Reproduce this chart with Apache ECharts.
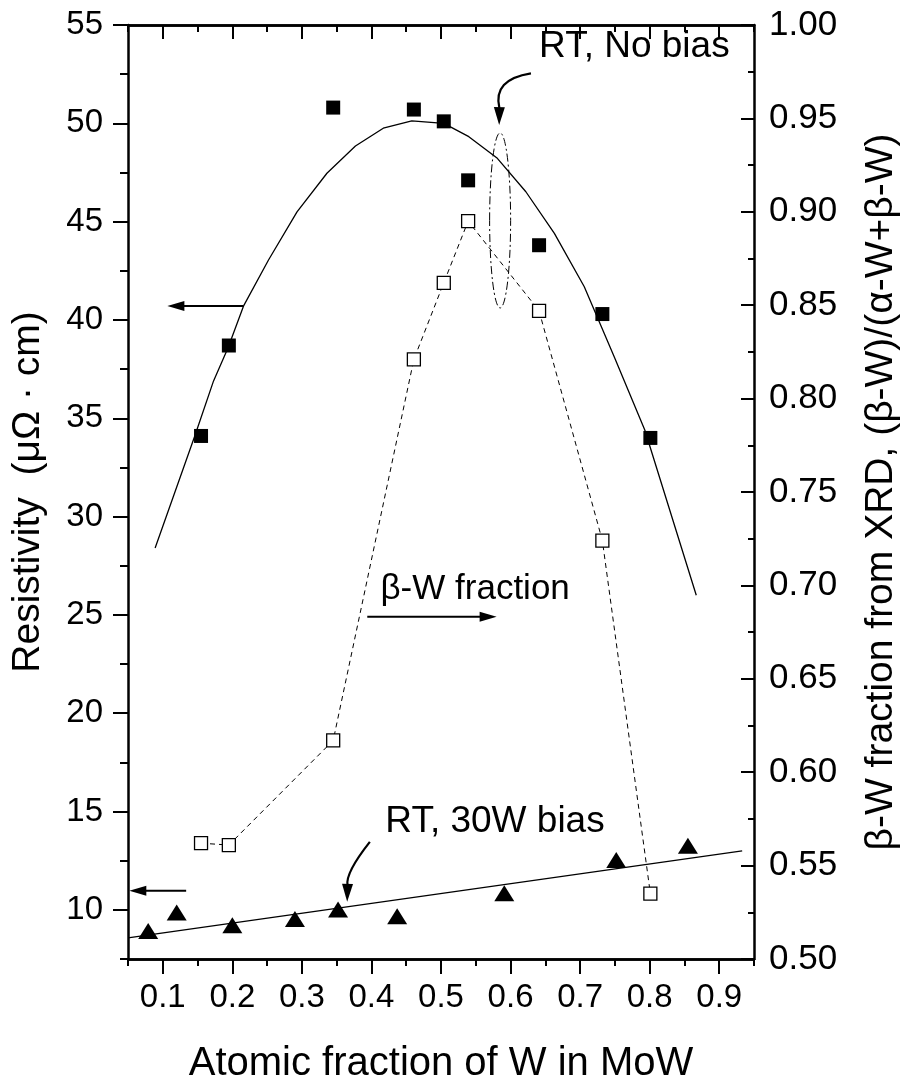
<!DOCTYPE html>
<html><head><meta charset="utf-8">
<script src="https://cdn.jsdelivr.net/npm/echarts@6/dist/echarts.min.js"></script>
<style>html,body{margin:0;padding:0;background:#fff}#c{width:902px;height:1081px}</style>
</head><body><div id="c"></div>
<script>
// ---- data ----
const compX = [0.155, 0.195, 0.345, 0.461, 0.504, 0.539, 0.641, 0.732, 0.801];
const resistNoBias = [34.1, 38.7, 50.8, 50.7, 50.1, 47.1, 43.8, 40.3, 34.0];
const betaFraction = [0.562, 0.561, 0.617, 0.821, 0.862, 0.895, 0.847, 0.724, 0.535];
const biasX = [0.079, 0.12, 0.2, 0.29, 0.352, 0.437, 0.591, 0.752, 0.855];
const resistBias = [8.92, 9.87, 9.22, 9.53, 10.02, 9.68, 10.84, 12.53, 13.26];
const fitCurveX = [0.089, 0.146, 0.173, 0.194, 0.216, 0.252, 0.293, 0.336, 0.377, 0.417, 0.458, 0.504, 0.540, 0.581, 0.622, 0.663, 0.706, 0.749, 0.793, 0.867];
const fitCurveY = [28.4, 34.1, 36.9, 38.6, 40.7, 43.05, 45.5, 47.46, 48.85, 49.75, 50.12, 50.0, 49.32, 48.22, 46.52, 44.4, 41.69, 38.13, 34.4, 26.0];
const biasFitX = [0.05, 0.933];
const biasFitY = [8.57, 13.0];
const xTickLabels = [0.1, 0.2, 0.3, 0.4, 0.5, 0.6, 0.7, 0.8, 0.9];
const xMinorTicks = [0.05, 0.15, 0.25, 0.35, 0.45, 0.55, 0.65, 0.75, 0.85, 0.95];
const leftTickLabels = [10, 15, 20, 25, 30, 35, 40, 45, 50, 55];

const FONT = "'Liberation Sans', Arial, sans-serif";
const zip = (a, b) => a.map((v, i) => [v, b[i]]);

const chart = echarts.init(document.getElementById('c'), null, {renderer: 'canvas'});
const GRID = {left: 128, right: 148, top: 25, bottom: 122, containLabel: false, outerBoundsMode: 'none'};
const lineBlack = {color: '#000', width: 2.5};

function xAx(pos, ticks, len, inside, opts) {
  return Object.assign({
    type: 'value', position: pos, min: 0.05, max: 0.95,
    axisLine: {show: true, onZero: false, lineStyle: lineBlack},
    axisTick: {show: true, inside: inside, length: len, customValues: ticks, lineStyle: {color: '#000', width: 2}},
    axisLabel: {show: false}, splitLine: {show: false}
  }, opts || {});
}

const option = {
  animation: false,
  backgroundColor: '#fff',
  grid: GRID,
  xAxis: [
    xAx('bottom', xTickLabels, 15, false, {
      axisLabel: {show: true, customValues: xTickLabels, fontFamily: FONT, fontSize: 33, color: '#000', margin: 22,
        formatter: v => (+v).toFixed(1)},
      name: 'Atomic fraction of W in MoW', nameLocation: 'middle', nameGap: 85,
      nameTextStyle: {fontFamily: FONT, fontSize: 40, color: '#000'}
    }),
    xAx('bottom', xMinorTicks, 7, false),
    xAx('top', xTickLabels, 14, true),
    xAx('top', xMinorTicks, 7, true)
  ],
  yAxis: [
    {
      type: 'value', position: 'left', min: 7.5, max: 55,
      axisLine: {show: true, onZero: false, lineStyle: lineBlack},
      axisTick: {show: true, length: 15, customValues: leftTickLabels, lineStyle: {color: '#000', width: 2}},
      axisLabel: {show: true, customValues: leftTickLabels, fontFamily: FONT, fontSize: 33, color: '#000', margin: 25},
      splitLine: {show: false},
      name: 'Resistivity  (\u03BC\u03A9 \u00B7 cm)', nameLocation: 'middle', nameGap: 80, nameRotate: 90,
      nameTextStyle: {fontFamily: FONT, fontSize: 39, color: '#000'}
    },
    {
      type: 'value', position: 'left', min: 7.5, max: 55, interval: 2.5,
      axisLine: {show: false, onZero: false},
      axisTick: {show: true, length: 8, lineStyle: {color: '#000', width: 2}},
      axisLabel: {show: false}, splitLine: {show: false}
    },
    {
      type: 'value', position: 'right', min: 0.5, max: 1.0, interval: 0.05,
      axisLine: {show: true, onZero: false, lineStyle: lineBlack},
      axisTick: {show: true, inside: true, length: 13, lineStyle: {color: '#000', width: 2}},
      minorTick: {show: true, splitNumber: 2, length: 6, lineStyle: {color: '#000', width: 2}},
      axisLabel: {show: true, fontFamily: FONT, fontSize: 35, color: '#000', margin: 15,
        formatter: v => (+v).toFixed(2)},
      splitLine: {show: false},
      name: '\u03B2-W fraction from XRD, (\u03B2-W)/(\u03B1-W+\u03B2-W)', nameLocation: 'middle', nameGap: 108, nameRotate: 90,
      nameTextStyle: {fontFamily: FONT, fontSize: 39, color: '#000'}
    }
  ],
  series: [
    {
      name: 'fit', type: 'line', xAxisIndex: 0, yAxisIndex: 0, data: zip(fitCurveX, fitCurveY),
      symbol: 'none', lineStyle: {color: '#000', width: 1.3}, z: 2
    },
    {
      name: 'RT no bias', type: 'scatter', xAxisIndex: 0, yAxisIndex: 0, data: zip(compX, resistNoBias),
      symbol: 'rect', symbolSize: 14, itemStyle: {color: '#000', opacity: 1}, z: 3
    },
    {
      name: 'beta fraction', type: 'line', xAxisIndex: 0, yAxisIndex: 2, data: zip(compX, betaFraction),
      symbol: 'rect', symbolSize: 13, showAllSymbol: true,
      itemStyle: {color: '#fff', borderColor: '#000', borderWidth: 1.3},
      lineStyle: {color: '#000', width: 1, type: [5, 4]}, z: 4
    },
    {
      name: 'bias fit', type: 'line', xAxisIndex: 0, yAxisIndex: 0, data: zip(biasFitX, biasFitY),
      symbol: 'none', lineStyle: {color: '#000', width: 1.3}, z: 2
    },
    {
      name: 'RT 30W bias', type: 'scatter', xAxisIndex: 0, yAxisIndex: 0, data: zip(biasX, resistBias),
      symbol: 'triangle', symbolSize: [20, 16], itemStyle: {color: '#000', opacity: 1}, z: 3
    }
  ]
};
chart.setOption(option);

// ---- annotations, placed in data coordinates (left axis) ----
const P = (x, y) => chart.convertToPixel({xAxisIndex: 0, yAxisIndex: 0}, [x, y]);
const textStyle = (s, size) => ({text: s, font: size + "px 'Liberation Sans', Arial, sans-serif", fill: '#000', verticalAlign: 'middle'});

function arrowHead(tip, from, len, half) {
  const dx = tip[0] - from[0], dy = tip[1] - from[1];
  const d = Math.hypot(dx, dy) || 1, ux = dx / d, uy = dy / d;
  const bx = tip[0] - ux * len, by = tip[1] - uy * len;
  return {type: 'polygon', shape: {points: [tip, [bx - uy * half, by + ux * half], [bx + uy * half, by - ux * half]]}, style: {fill: '#000'}, z: 10};
}
function straightArrow(a, b) {
  const A = P(a[0], a[1]), B = P(b[0], b[1]);
  const dx = B[0] - A[0], dy = B[1] - A[1], d = Math.hypot(dx, dy);
  const E = [B[0] - dx / d * 14, B[1] - dy / d * 14];
  return [
    {type: 'line', shape: {x1: A[0], y1: A[1], x2: E[0], y2: E[1]}, style: {stroke: '#000', lineWidth: 2}, z: 10},
    arrowHead(B, A, 17, 5)
  ];
}
function curvedArrow(a, c, e, tip) {
  const A = P(a[0], a[1]), C = P(c[0], c[1]), E = P(e[0], e[1]), T = P(tip[0], tip[1]);
  return [
    {type: 'bezierCurve', shape: {x1: A[0], y1: A[1], cpx1: C[0], cpy1: C[1], x2: E[0], y2: E[1]}, style: {stroke: '#000', lineWidth: 2.2, fill: null}, z: 10},
    arrowHead(T, E, 18, 5.5)
  ];
}

const ellC = P(0.585, 45.06);
const ellTop = P(0.585, 45.06 + 4.45);
const ellRight = P(0.585 + 0.0151, 45.06);

const graphics = [].concat(
  [{type: 'text', x: P(0.641, 53.9)[0], y: P(0.641, 53.9)[1], style: textStyle('RT, No bias', 37), z: 10}],
  curvedArrow([0.6293, 52.54], [0.5742, 52.23], [0.5839, 50.78], [0.5836, 49.91]),
  [{type: 'ellipse', shape: {cx: ellC[0], cy: ellC[1], rx: ellRight[0] - ellC[0], ry: ellC[1] - ellTop[1]},
    style: {stroke: '#000', lineWidth: 1, fill: null, lineDash: [8, 3, 2, 3]}, z: 10}],
  [{type: 'text', x: P(0.413, 26.31)[0], y: P(0.413, 26.31)[1], style: textStyle('\u03B2-W fraction', 35), z: 10}],
  straightArrow([0.394, 24.9], [0.580, 24.9]),
  straightArrow([0.2157, 40.71], [0.1066, 40.71]),
  straightArrow([0.1336, 10.97], [0.0519, 10.97]),
  [{type: 'text', x: P(0.420, 14.49)[0], y: P(0.420, 14.49)[1], style: textStyle('RT, 30W bias', 37), z: 10}],
  curvedArrow([0.3977, 13.46], [0.3625, 11.88], [0.3656, 11.26], [0.3651, 10.41])
);
chart.setOption({graphic: graphics});
</script>
</body></html>
